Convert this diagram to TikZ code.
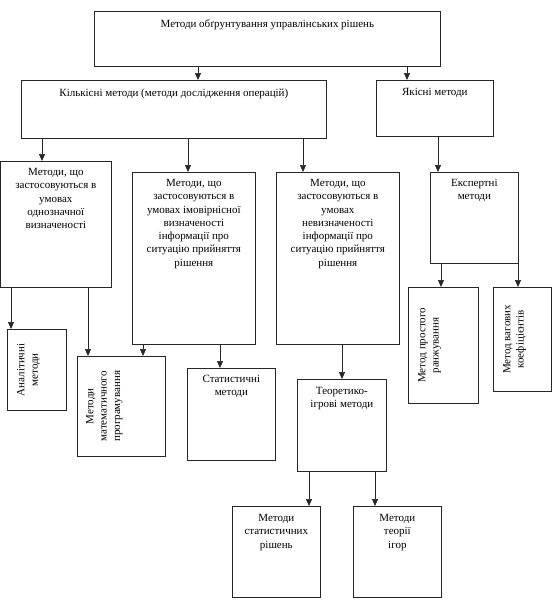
\documentclass[tikz,border=0pt]{standalone}
\usepackage{fontspec}
\setmainfont{Liberation Serif}
\usetikzlibrary{arrows.meta}
\begin{document}
\begin{tikzpicture}[x=1pt, y=-1pt, >={Stealth[length=7pt, width=6pt, inset=0pt]},
 box/.style={draw=black!85, line width=0.7pt, anchor=north west, inner sep=0pt},
 txt/.style={anchor=north, align=center, inner sep=0pt, font=\fontsize{11}{13.3}\selectfont},
 vtxt/.style={txt, rotate=90},
 link/.style={->, line width=0.7pt, black!85}]
 \useasboundingbox (0,0) rectangle (552,600);
 % Верхній рівень
 \node[box, minimum width=346pt, minimum height=55pt] (top) at (94,11) {};
 \node[txt] (ttop) at ([yshift=-8.5pt]top.north) {Методи обґрунтування  управлінських  рішень};
 \node[box, minimum width=305pt, minimum height=58pt] (kil) at (21,80) {};
 \node[txt] (tkil) at ([yshift=-8.5pt]kil.north) {Кількісні  методи (методи дослідження  операцій)};
 \node[box, minimum width=117pt, minimum height=56pt] (yak) at (376,80) {};
 \node[txt] (tyak) at ([yshift=-8.5pt]yak.north) {Якісні методи};
 % Групи кількісних методів
 \node[box, minimum width=110pt, minimum height=126pt] (m1) at (0.5,161) {};
 \node[txt] (tm1) at ([yshift=-7pt]m1.north) {Методи, що\\застосовуються в\\умовах\\однозначної\\визначеності};
 \node[box, minimum width=123pt, minimum height=172pt] (m2) at (132,172) {};
 \node[txt] (tm2) at ([yshift=-7pt]m2.north) {Методи, що\\застосовуються в\\умовах імовірнісної\\визначеності\\інформації про\\ситуацію прийняття\\рішення};
 \node[box, minimum width=123pt, minimum height=172pt] (m3) at (276,172) {};
 \node[txt] (tm3) at ([yshift=-7pt]m3.north) {Методи, що\\застосовуються в\\умовах\\невизначеності\\інформації про\\ситуацію прийняття\\рішення};
 \node[box, minimum width=88pt, minimum height=91pt] (eksp) at (430,172) {};
 \node[txt] (teksp) at ([yshift=-7pt]eksp.north) {Експертні\\методи};
 % Окремі методи
 \node[box, minimum width=59pt, minimum height=81pt] (anal) at (7,329) {};
 \node[vtxt] (tanal) at ([xshift=10pt]anal.west) {Аналітичні\\методи};
 \node[box, minimum width=88pt, minimum height=100pt] (mat) at (77,356) {};
 \node[vtxt] (tmat) at ([xshift=9pt]mat.west) {Методи\\математичного\\програмування};
 \node[box, minimum width=88pt, minimum height=92pt] (stat) at (187,368) {};
 \node[txt] (tstat) at ([yshift=-7pt]stat.north) {Статистичні\\методи};
 \node[box, minimum width=89pt, minimum height=92pt] (teor) at (297,379) {};
 \node[txt] (tteor) at ([yshift=-8pt]teor.north) {Теоретико-\\ігрові методи};
 \node[box, minimum width=88pt, minimum height=91pt] (strish) at (232,506) {};
 \node[txt] (tstrish) at ([yshift=-8pt]strish.north) {Методи\\статистичних\\рішень};
 \node[box, minimum width=88pt, minimum height=91pt] (tigor) at (353,506) {};
 \node[txt] (ttigor) at ([yshift=-8pt]tigor.north) {Методи\\теорії\\ігор};
 \node[box, minimum width=70pt, minimum height=116pt] (prost) at (408,287) {};
 \node[vtxt] (tprost) at ([xshift=10pt]prost.west) {Метод простого\\ранжування};
 \node[box, minimum width=58pt, minimum height=104pt] (vag) at (493,287) {};
 \node[vtxt] (tvag) at ([xshift=10pt]vag.west) {Метод вагових\\коефіцієнтів};
 % Стрілки
 \draw[link] (top.south -| 198,0) -- (kil.north -| 198,0);
 \draw[link] (top.south -| 407,0) -- (yak.north -| 407,0);
 \draw[link] (kil.south -| 42,0) -- (m1.north -| 42,0);
 \draw[link] (kil.south -| 188,0) -- (m2.north -| 188,0);
 \draw[link] (kil.south -| 303,0) -- (m3.north -| 303,0);
 \draw[link] (yak.south -| 438,0) -- (eksp.north -| 438,0);
 \draw[link] (m1.south -| 11,0) -- (anal.north -| 11,0);
 \draw[link] (m1.south -| 88,0) -- (mat.north -| 88,0);
 \draw[link] (m2.south -| 143,0) -- (mat.north -| 143,0);
 \draw[link] (m2.south -| 220,0) -- (stat.north -| 220,0);
 \draw[link] (m3.south -| 342,0) -- (teor.north -| 342,0);
 \draw[link] (teor.south -| 309,0) -- (strish.north -| 309,0);
 \draw[link] (teor.south -| 375,0) -- (tigor.north -| 375,0);
 \draw[link] (eksp.south -| 441,0) -- (prost.north -| 441,0);
 \draw[link] (eksp.south -| 518,0) -- (vag.north -| 518,0);
\end{tikzpicture}
\end{document}
